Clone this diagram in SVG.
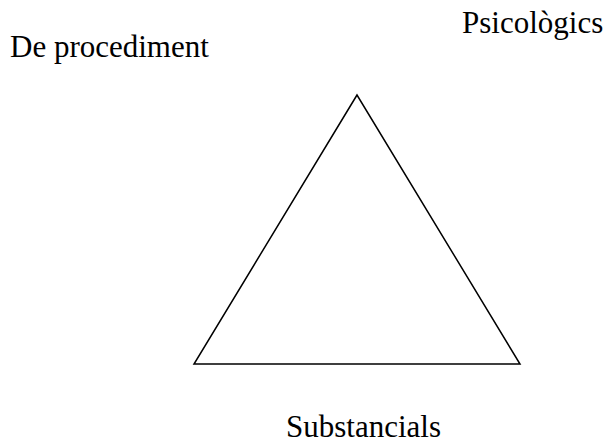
<svg xmlns="http://www.w3.org/2000/svg" width="608" height="444" viewBox="0 0 608 444">
<style>
.lbl{font-family:"Liberation Serif","Times New Roman",serif;font-size:31px;fill:#000}
.tri{fill:none;stroke:#000;stroke-width:1.5}
</style>
<rect width="608" height="444" fill="#fff"/>
<g id="triangle"><polygon class="tri" points="357,95 194,364 520,364"/></g>
<g id="procediment"><text class="lbl" x="10" y="57">De procediment</text></g>
<g id="psicologics"><text class="lbl" x="462" y="33">Psicològics</text></g>
<g id="substancials"><text class="lbl" x="286" y="437">Substancials</text></g>
</svg>
